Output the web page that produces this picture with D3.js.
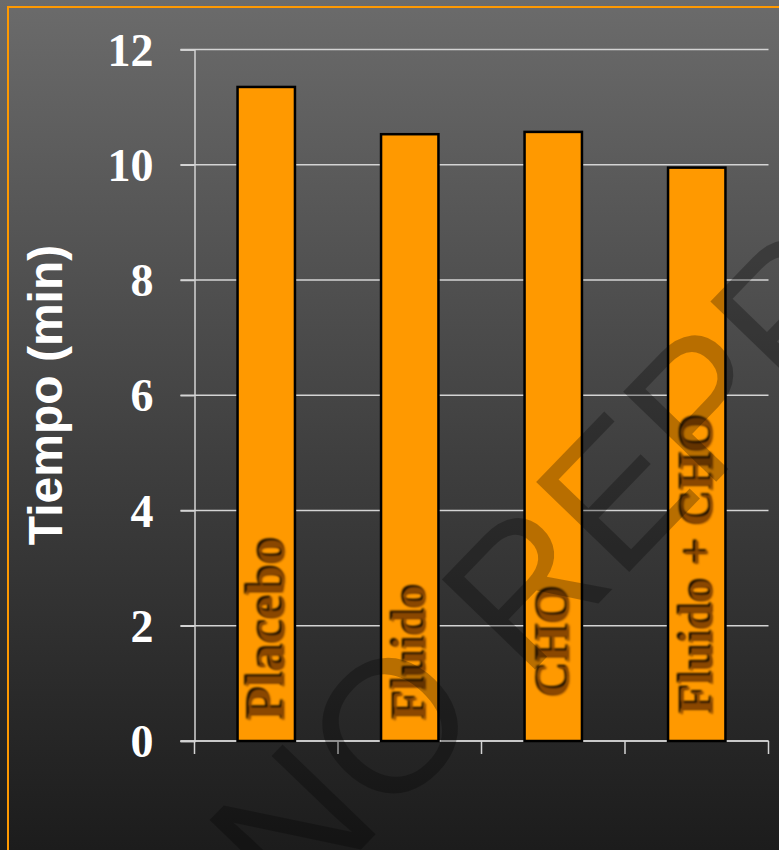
<!DOCTYPE html>
<html>
<head>
<meta charset="utf-8">
<script src="https://cdn.jsdelivr.net/npm/d3@7"></script>
<style>
  html, body { margin: 0; padding: 0; background: #1c1c1c; }
  svg { display: block; }
</style>
</head>
<body>
<svg id="chart" width="779" height="850"></svg>
<script>
// Exercise test: time to finish (min) per drink condition
const categories = ["Placebo", "Fluido", "CHO", "Fluido + CHO"];
const tiempo = [11.35, 10.53, 10.57, 9.95];
const yTicks = [0, 2, 4, 6, 8, 10, 12];
const yTitle = "Tiempo (min)";
const watermark = "NO REPRODUCIR";

const W = 779, H = 850;
const plot = { left: 194.5, right: 768.5, top: 49.5, bottom: 741 };

// per-label layout for the rotated category names inside the bars
const labelLayout = {
  "Placebo":      { size: 55, bottom: 721 },
  "Fluido":       { size: 49, bottom: 721 },
  "CHO":          { size: 49, bottom: 698 },
  "Fluido + CHO": { size: 49, bottom: 715 }
};

const svg = d3.select("#chart");
const defs = svg.append("defs");

const bg = defs.append("linearGradient")
  .attr("id", "bg").attr("x1", 0).attr("y1", 0).attr("x2", 0).attr("y2", 1);
bg.append("stop").attr("offset", "0%").attr("stop-color", "#6b6b6b");
bg.append("stop").attr("offset", "55%").attr("stop-color", "#3e3e3e");
bg.append("stop").attr("offset", "100%").attr("stop-color", "#1c1c1c");

const soft = defs.append("filter").attr("id", "soft")
  .attr("x", "-10%").attr("y", "-10%").attr("width", "120%").attr("height", "120%");
soft.append("feGaussianBlur").attr("stdDeviation", 0.9);

svg.append("rect").attr("width", W).attr("height", H).attr("fill", "url(#bg)");

// orange slide frame
svg.append("rect")
  .attr("x", 8).attr("y", 7).attr("width", W + 40).attr("height", H + 40)
  .attr("fill", "none").attr("stroke", "#ff9900").attr("stroke-width", 2);

const x = d3.scaleBand()
  .domain(categories)
  .range([plot.left, plot.right])
  .paddingInner(0.6)
  .paddingOuter(0.3);

const y = d3.scaleLinear()
  .domain([0, 12])
  .range([plot.bottom, plot.top]);

const gridColor = "#d4d4d4";

// horizontal gridlines (extend left past the axis as outer ticks)
svg.append("g").selectAll("line")
  .data(yTicks)
  .join("line")
  .attr("x1", plot.left - 14).attr("x2", plot.right)
  .attr("y1", d => y(d)).attr("y2", d => y(d))
  .attr("stroke", gridColor).attr("stroke-width", 1.5);

// y axis with bold serif tick labels
const yAxis = d3.axisLeft(y)
  .tickValues(yTicks)
  .tickFormat(d3.format("d"))
  .tickSize(14)
  .tickPadding(27);

const gy = svg.append("g")
  .attr("transform", `translate(${plot.left},0)`)
  .call(yAxis);
gy.select(".domain").attr("stroke", gridColor).attr("stroke-width", 1.5);
gy.selectAll(".tick line").attr("stroke", gridColor).attr("stroke-width", 1.5);
gy.selectAll(".tick text")
  .attr("fill", "#ffffff")
  .attr("font-family", "'Liberation Serif', 'Times New Roman', serif")
  .attr("font-weight", "bold")
  .attr("font-size", 46)
  .attr("dy", "0.34em");

// x axis: baseline with ticks at category boundaries
const step = x.step();
const x0 = x.range()[0];
const bounds = d3.range(categories.length + 1).map(i => x0 + i * step);
const gx = svg.append("g");
gx.append("line")
  .attr("x1", plot.left - 14).attr("x2", plot.right)
  .attr("y1", y(0)).attr("y2", y(0))
  .attr("stroke", gridColor).attr("stroke-width", 1.5);
gx.selectAll(".xt")
  .data(bounds)
  .join("line")
  .attr("class", "xt")
  .attr("x1", d => d).attr("x2", d => d)
  .attr("y1", y(0)).attr("y2", y(0) + 13)
  .attr("stroke", gridColor).attr("stroke-width", 1.5);

// bars
svg.append("g").selectAll("rect")
  .data(categories.map((c, i) => ({ c, v: tiempo[i] })))
  .join("rect")
  .attr("x", d => x(d.c))
  .attr("width", x.bandwidth())
  .attr("y", d => y(d.v))
  .attr("height", d => y(0) - y(d.v))
  .attr("fill", "#ff9900")
  .attr("stroke", "#000000")
  .attr("stroke-width", 2.5);

// rotated category names inside the bars, with a dark drop shadow
const labels = svg.append("g").selectAll("g")
  .data(categories)
  .join("g")
  .attr("transform", d => {
    const L = labelLayout[d];
    const cx = x(d) + x.bandwidth() / 2 + L.size * 0.33;
    return `translate(${cx},${L.bottom}) rotate(-90)`;
  });

labels.append("text")
  .attr("x", 1.5).attr("y", -2.5)
  .attr("fill", "#000000")
  .attr("filter", "url(#soft)")
  .attr("font-family", "'Liberation Serif', 'Times New Roman', serif")
  .attr("font-weight", "bold")
  .attr("font-size", d => labelLayout[d].size)
  .text(d => d);

labels.append("text")
  .attr("fill", "#8a4600")
  .attr("filter", "url(#soft)")
  .attr("font-family", "'Liberation Serif', 'Times New Roman', serif")
  .attr("font-weight", "bold")
  .attr("font-size", d => labelLayout[d].size)
  .text(d => d);

// y axis title
svg.append("text")
  .attr("transform", "translate(62,395) rotate(-90)")
  .attr("text-anchor", "middle")
  .attr("fill", "#ffffff")
  .attr("font-family", "'Liberation Sans', Arial, sans-serif")
  .attr("font-weight", "bold")
  .attr("font-size", 48)
  .text(yTitle);

// diagonal watermark across the chart
svg.append("text")
  .attr("transform", "translate(292,921) rotate(-46)")
  .attr("fill", "#000000")
  .attr("fill-opacity", 0.28)
  .attr("font-family", "'Liberation Sans', Arial, sans-serif")
  .attr("font-size", 188)
  .text(watermark);
</script>
</body>
</html>
